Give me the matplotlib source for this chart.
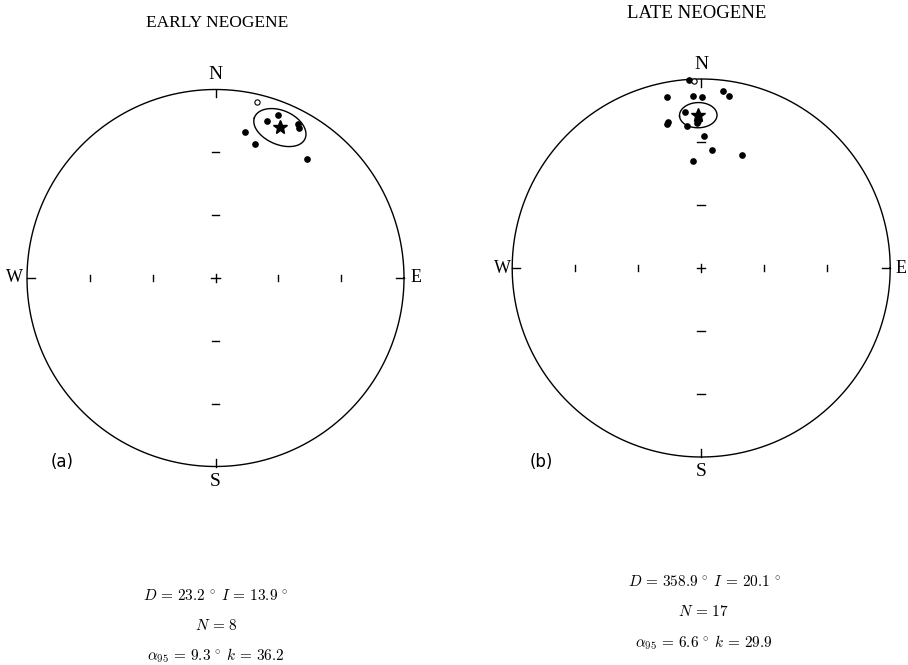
import numpy as np
import matplotlib
matplotlib.use('Agg')
import matplotlib.pyplot as plt

plt.rcParams['mathtext.fontset'] = 'cm'
SERIF = 'Liberation Serif'

W, H = 908, 665

# site mean directions, degrees (negative inclination = upper hemisphere)
early_dec = [13.4, 21.1, 18.3, 28.3, 29.2, 11.6, 16.6, 37.7]
early_inc = [-4.8, 8.3, 13.5, 8.2, 10.0, 22.2, 26.9, 21.5]

late_dec = [356.4, 357.7, 348.6, 357.2, 0.2, 7.1, 9.3, 354.1, 347.3,
            346.5, 354.2, 358.2, 358.9, 1.2, 5.1, 19.9, 355.8]
late_inc = [0.5, -1.0, 8.5, 9.6, 10.4, 6.1, 8.4, 18.3, 21.7,
            22.7, 25.5, 24.4, 23.3, 30.8, 37.2, 36.6, 42.7]

# fisher statistics
early_mean = (23.2, 13.9)
early_n, early_a95, early_k = 8, 9.3, 36.2
late_mean = (358.9, 20.1)
late_n, late_a95, late_k = 17, 6.6, 29.9


def equal_area(dec, inc):
    dec = np.radians(np.asarray(dec, float))
    inc = np.radians(np.abs(np.asarray(inc, float)))
    r = np.sqrt(2) * np.sin((np.pi / 2 - inc) / 2)
    return r * np.sin(dec), r * np.cos(dec)


def cone(dec, inc, a95, n=200):
    d, i, a = np.radians(dec), np.radians(inc), np.radians(a95)
    m = np.array([np.cos(i) * np.cos(d), np.cos(i) * np.sin(d), np.sin(i)])
    u = np.cross(m, [0, 0, 1.0])
    u /= np.linalg.norm(u)
    v = np.cross(m, u)
    t = np.linspace(0, 2 * np.pi, n)
    p = (np.cos(a) * m[:, None]
         + np.sin(a) * (np.cos(t) * u[:, None] + np.sin(t) * v[:, None]))
    cdec = np.degrees(np.arctan2(p[1], p[0]))
    cinc = np.degrees(np.arcsin(p[2]))
    return cdec, cinc


def draw_net(fig, cx, cy, R, dec, inc, mean, a95, lab_off):
    h = 1.15
    ax = fig.add_axes([(cx - h * R) / W, 1 - (cy + h * R) / H,
                       2 * h * R / W, 2 * h * R / H])
    ax.set_xlim(-h, h)
    ax.set_ylim(-h, h)
    ax.axis('off')

    t = np.linspace(0, 2 * np.pi, 400)
    ax.plot(np.cos(t), np.sin(t), color='black', lw=1.0)

    tl = 0.042
    # cardinal ticks
    ax.plot([0, 0], [1, 1 - tl], color='black', lw=1.0)
    ax.plot([0, 0], [-1, -1 + tl], color='black', lw=1.0)
    ax.plot([-1, -1 + tl], [0, 0], color='black', lw=1.0)
    ax.plot([1, 1 - tl], [0, 0], color='black', lw=1.0)
    # axis ticks and centre cross
    for s in [-2 / 3, -1 / 3, 1 / 3, 2 / 3]:
        ax.plot([s, s], [-0.017, 0.017], color='black', lw=1.0)
        ax.plot([-0.02, 0.02], [s, s], color='black', lw=1.0)
    ax.plot([-0.022, 0.022], [0, 0], color='black', lw=1.0)
    ax.plot([0, 0], [-0.022, 0.022], color='black', lw=1.0)

    nx, wx, ex, sx = lab_off
    ax.text(0, nx, 'N', ha='center', va='center', fontsize=14, family=SERIF)
    ax.text(-wx, 0, 'W', ha='center', va='center', fontsize=13, family=SERIF)
    ax.text(ex, 0, 'E', ha='center', va='center', fontsize=13, family=SERIF)
    ax.text(0, -sx, 'S', ha='center', va='center', fontsize=14, family=SERIF)

    dec = np.asarray(dec)
    inc = np.asarray(inc)
    down = inc >= 0
    x, y = equal_area(dec[down], inc[down])
    ax.plot(x, y, 'o', color='black', ms=3.8, ls='none')
    x, y = equal_area(dec[~down], inc[~down])
    ax.plot(x, y, 'o', mfc='white', mec='black', mew=0.8, ms=3.8, ls='none')

    cd, ci = cone(mean[0], mean[1], a95)
    x, y = equal_area(cd, ci)
    ax.plot(x, y, color='black', lw=1.0)
    x, y = equal_area([mean[0]], [mean[1]])
    ax.plot(x, y, '*', color='black', ms=10, ls='none')
    return ax


fig = plt.figure(figsize=(W / 100, H / 100), dpi=100)

draw_net(fig, 215.5, 278, 188.5, early_dec, early_inc, early_mean, early_a95,
         (1.079, 1.064, 1.064, 1.077))
draw_net(fig, 701.2, 268, 189, late_dec, late_inc, late_mean, late_a95,
         (1.079, 1.049, 1.057, 1.079))


def ftext(x, y, s, **kw):
    fig.text(x / W, 1 - y / H, s, ha='center', va='center', **kw)


ftext(217, 23, 'EARLY NEOGENE', fontsize=12.5, family=SERIF)
ftext(697, 14, 'LATE NEOGENE', fontsize=13.5, family=SERIF)
ftext(62, 462, '(a)', fontsize=12, family='DejaVu Sans')
ftext(541, 462, '(b)', fontsize=12, family='DejaVu Sans')

for cx, ys, mean, n, a95, k in [(216, (595, 625, 656), early_mean, early_n, early_a95, early_k),
                                (704, (582, 612, 643), late_mean, late_n, late_a95, late_k)]:
    ftext(cx, ys[0], r'$D\,=\,%.1f\,^\circ\;I\,=\,%.1f\,^\circ$' % mean, fontsize=11)
    ftext(cx, ys[1], r'$N\,=\,%d$' % n, fontsize=11)
    ftext(cx, ys[2], r'$\alpha_{95}\,=\,%.1f\,^\circ\;k\,=\,%.1f$' % (a95, k), fontsize=11)

fig.savefig('out.png', dpi=100)
